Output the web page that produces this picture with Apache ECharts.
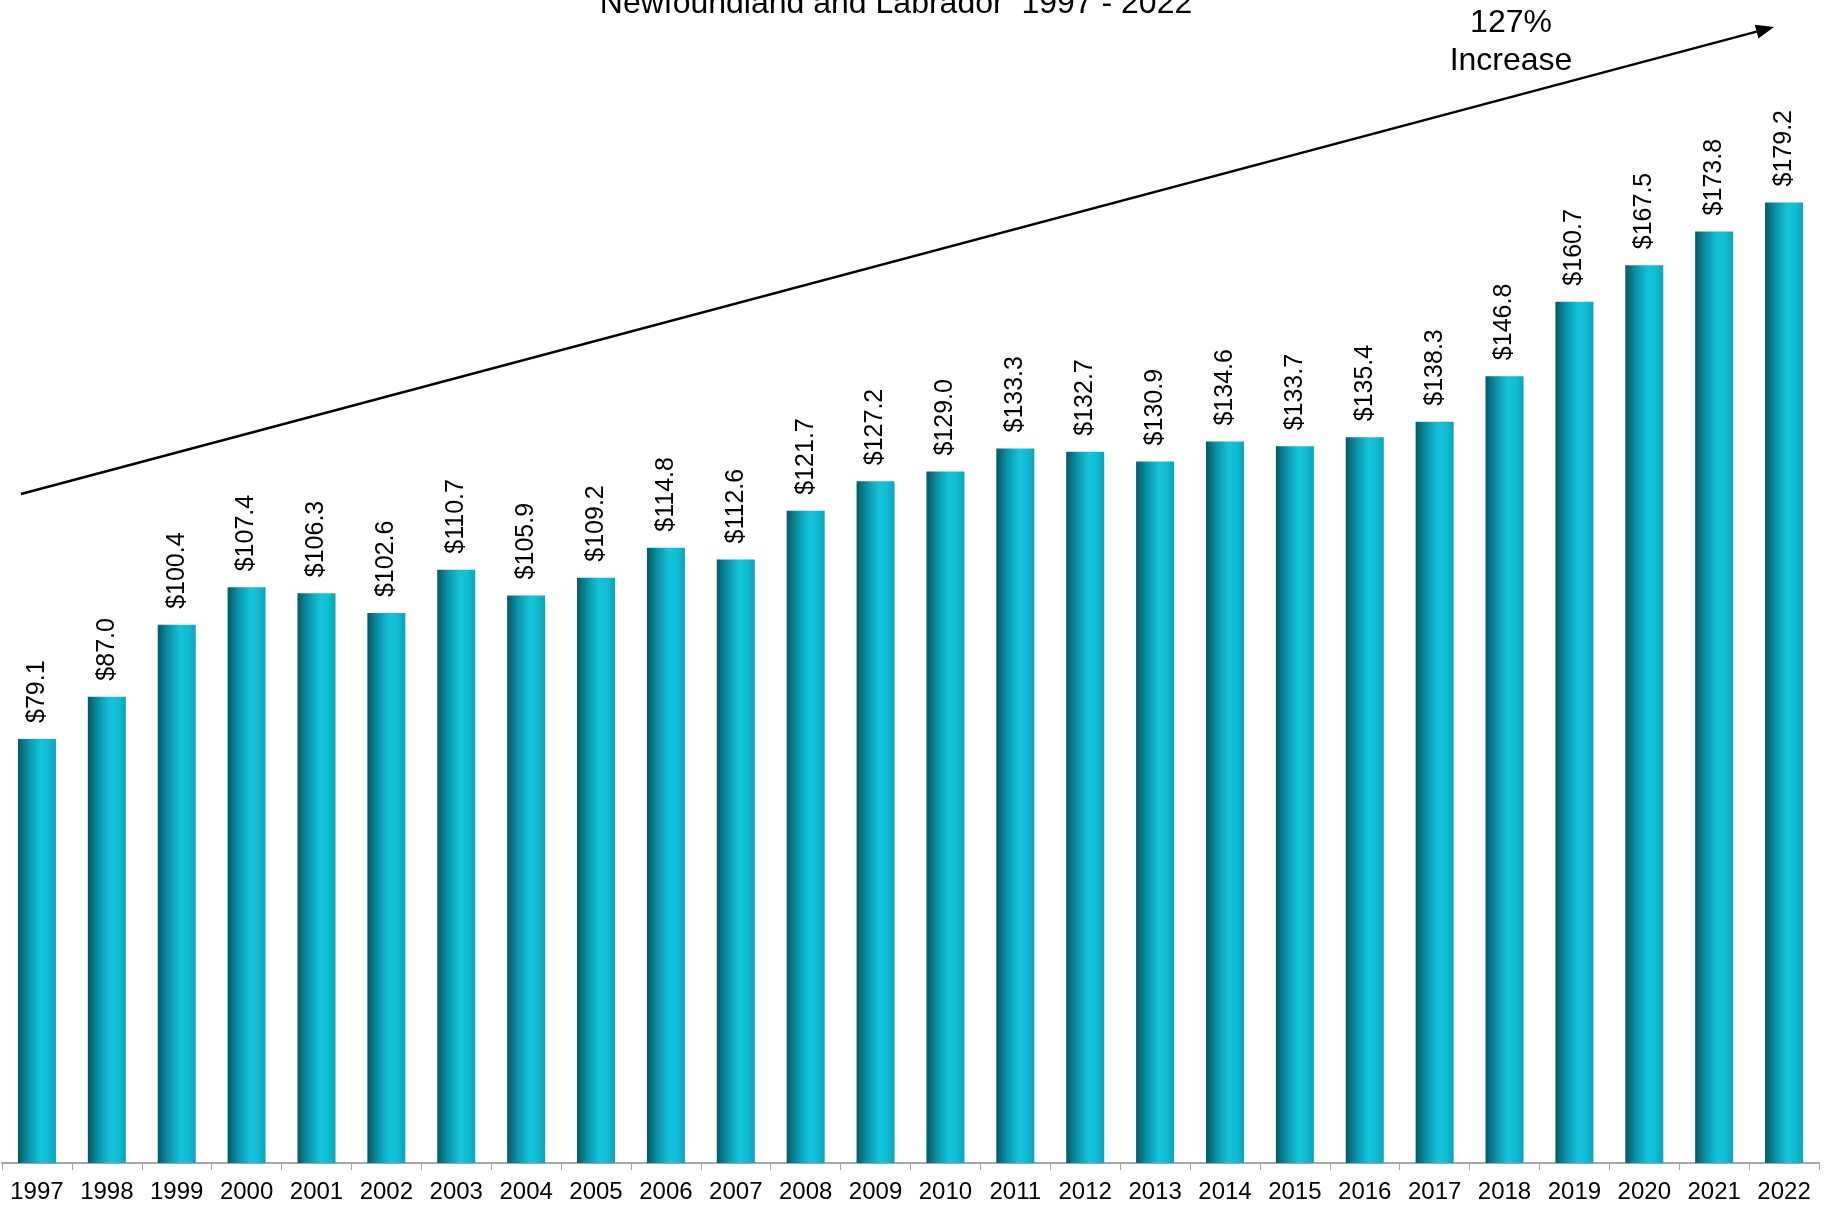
<!DOCTYPE html>
<html>
<head>
<meta charset="utf-8">
<script src="https://cdn.jsdelivr.net/npm/echarts@6/dist/echarts.min.js"></script>
<style>
html,body{margin:0;padding:0;background:#fff;}
#chart{width:1831px;height:1205px;}
</style>
</head>
<body>
<div id="chart"></div>
<script>
const titleText = 'Newfoundland and Labrador  1997 - 2022';
const annotationText = '127%\nIncrease';
const years = ['1997','1998','1999','2000','2001','2002','2003','2004','2005','2006','2007','2008','2009','2010','2011','2012','2013','2014','2015','2016','2017','2018','2019','2020','2021','2022'];
const values = [79.1, 87.0, 100.4, 107.4, 106.3, 102.6, 110.7, 105.9, 109.2, 114.8, 112.6, 121.7, 127.2, 129.0, 133.3, 132.7, 130.9, 134.6, 133.7, 135.4, 138.3, 146.8, 160.7, 167.5, 173.8, 179.2];

const FONT = '"Liberation Sans", Arial, Helvetica, sans-serif';

// Arrow annotation geometry (annotation, not data)
const arrowStart = [21, 494];
const arrowTip = [1774, 27];
const headLen = 18, headHalf = 7;
const dx = arrowTip[0] - arrowStart[0], dy = arrowTip[1] - arrowStart[1];
const L = Math.sqrt(dx*dx + dy*dy);
const ux = dx / L, uy = dy / L;
const nx = -uy, ny = ux;
const baseC = [arrowTip[0] - headLen*ux, arrowTip[1] - headLen*uy];

const chart = echarts.init(document.getElementById('chart'), null, {renderer: 'canvas'});
chart.setOption({
  animation: false,
  backgroundColor: '#ffffff',
  grid: {left: 2, right: 12, top: 91, bottom: 42, containLabel: false},
  xAxis: {
    type: 'category',
    data: years,
    boundaryGap: true,
    axisLine: {show: true, lineStyle: {color: '#a6a6a6', width: 2}},
    axisTick: {show: true, alignWithLabel: false, length: 7, lineStyle: {color: '#a6a6a6', width: 1}},
    axisLabel: {color: '#000', fontFamily: FONT, fontSize: 24, margin: 17, interval: 0}
  },
  yAxis: {
    type: 'value',
    min: 0, max: 200,
    show: false,
    splitLine: {show: false}
  },
  series: [{
    type: 'bar',
    data: values,
    barWidth: 38,
    itemStyle: {
      color: new echarts.graphic.LinearGradient(0, 0, 1, 0, [
        {offset: 0, color: '#065866'},
        {offset: 0.28, color: '#0a93a6'},
        {offset: 0.6, color: '#13c5dc'},
        {offset: 0.8, color: '#0fbcd3'},
        {offset: 1, color: '#0aa3b8'}
      ])
    },
    label: {
      show: true,
      position: 'top',
      rotate: 90,
      align: 'left',
      verticalAlign: 'middle',
      distance: 16,
      color: '#000',
      fontFamily: FONT,
      fontSize: 25,
      formatter: p => '$' + p.value.toFixed(1)
    }
  }],
  graphic: [
    {
      type: 'text',
      x: 896, y: 4,
      style: {text: titleText, fill: '#000', font: '32px ' + FONT, textAlign: 'center', textVerticalAlign: 'middle'}
    },
    {
      type: 'text',
      x: 1511, y: 42,
      style: {text: annotationText, fill: '#000', font: '32px ' + FONT, lineHeight: 38, textAlign: 'center', textVerticalAlign: 'middle'}
    },
    {
      type: 'line',
      shape: {x1: arrowStart[0], y1: arrowStart[1], x2: baseC[0], y2: baseC[1]},
      style: {stroke: '#000', lineWidth: 2.5}
    },
    {
      type: 'polygon',
      shape: {points: [
        arrowTip,
        [baseC[0] + headHalf*nx, baseC[1] + headHalf*ny],
        [baseC[0] - headHalf*nx, baseC[1] - headHalf*ny]
      ]},
      style: {fill: '#000'}
    }
  ]
});
</script>
</body>
</html>
